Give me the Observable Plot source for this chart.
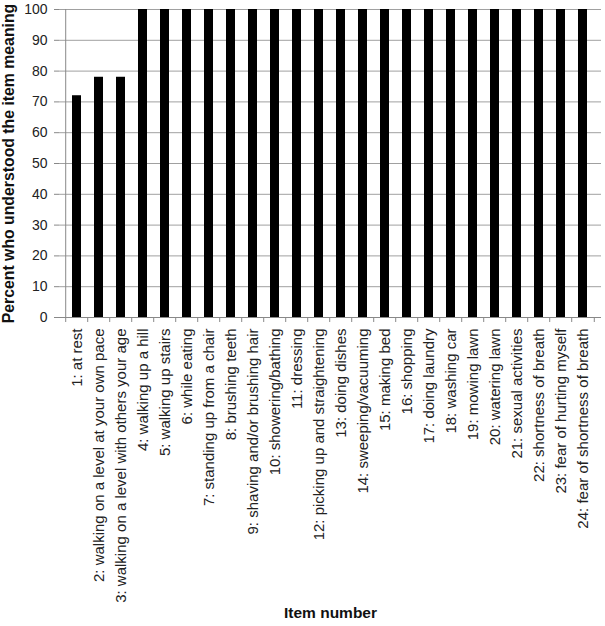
<!DOCTYPE html>
<html>
<head>
<meta charset="utf-8">
<script src="https://cdn.jsdelivr.net/npm/d3@7"></script>
<script src="https://cdn.jsdelivr.net/npm/@observablehq/plot@0.6"></script>
<style>
  html, body { margin: 0; padding: 0; background: #fff; }
  svg { font-family: "Liberation Sans", Arial, sans-serif; }
</style>
</head>
<body>
<div id="chart"></div>
<script>
const categories = [
  "1: at rest",
  "2: walking on a level at your own pace",
  "3: walking on a level with others your age",
  "4: walking up a hill",
  "5: walking up stairs",
  "6: while eating",
  "7: standing up from a chair",
  "8: brushing teeth",
  "9: shaving and/or brushing hair",
  "10: showering/bathing",
  "11: dressing",
  "12: picking up and straightening",
  "13: doing dishes",
  "14: sweeping/vacuuming",
  "15: making bed",
  "16: shopping",
  "17: doing laundry",
  "18: washing car",
  "19: mowing lawn",
  "20: watering lawn",
  "21: sexual activities",
  "22: shortness of breath",
  "23: fear of hurting myself",
  "24: fear of shortness of breath"
];
const values = [72, 78, 78, 100, 100, 100, 100, 100, 100, 100, 100, 100, 100, 100, 100, 100, 100, 100, 100, 100, 100, 100, 100, 100];
const yTicks = [0, 10, 20, 30, 40, 50, 60, 70, 80, 90, 100];
const yTitle = "Percent who understood the item meaning";
const xTitle = "Item number";

const data = categories.map((c, i) => ({item: c, value: values[i]}));

const W = 605, H = 626;
const mL = 59, mR = 4, mT = 9, mB = 309;
const step = (W - mL - mR) / categories.length;

const chart = Plot.plot({
  width: W,
  height: H,
  marginLeft: mL,
  marginRight: mR,
  marginTop: mT,
  marginBottom: mB,
  style: {fontFamily: "'Liberation Sans', Arial, sans-serif", background: "#fff"},
  x: {domain: categories, paddingInner: 0.58, paddingOuter: 0.29, axis: null},
  y: {domain: [0, 100], axis: null},
  marks: [
    Plot.gridY(yTicks, {stroke: "#a0a0a0", strokeOpacity: 1, strokeWidth: 1}),
    Plot.barY(data, {x: "item", y: "value", fill: "#000"}),
    // left axis line
    Plot.ruleX([categories[0]], {y1: 0, y2: 100, dx: -step / 2, stroke: "#888"}),
    // bottom axis line
    Plot.ruleY([0], {stroke: "#888"}),
    // category boundary ticks
    Plot.ruleX(categories, {y1: 0, y2: 0, insetBottom: -5, dx: -step / 2, stroke: "#888"}),
    Plot.ruleX([categories[categories.length - 1]], {y1: 0, y2: 0, insetBottom: -5, dx: step / 2, stroke: "#888"}),
    Plot.axisY(yTicks, {tickSize: 5, tickPadding: 7, fontSize: 14, label: null, stroke: "#888", color: "#222"}),
    Plot.axisX({tickRotate: -90, tickSize: 0, tickPadding: 11, fontSize: 15, label: null, color: "#222"}),
    Plot.text([yTitle], {text: d => d, frameAnchor: "left", dx: -51, rotate: -90, textAnchor: "middle", fontSize: 15.8, fontWeight: "bold", fill: "#111"}),
    Plot.text([xTitle], {text: d => d, frameAnchor: "bottom", dy: 300, textAnchor: "middle", fontSize: 15.5, fontWeight: "bold", fill: "#111"})
  ]
});
document.getElementById("chart").appendChild(chart);
</script>
</body>
</html>
